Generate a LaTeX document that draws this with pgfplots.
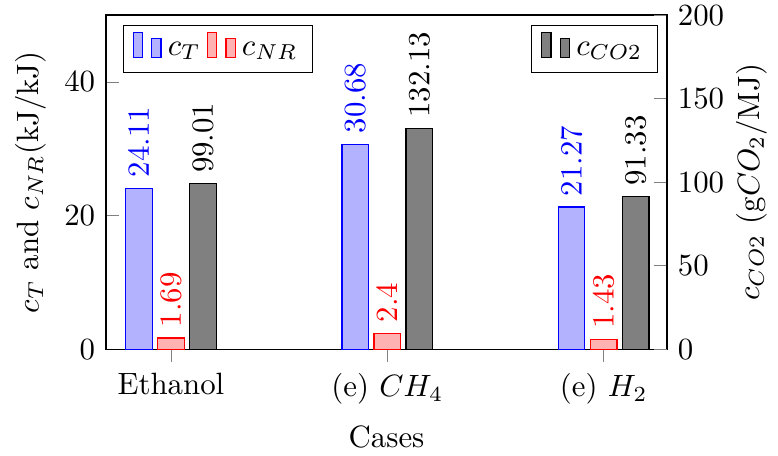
\documentclass[border=0pt]{standalone}
\usepackage{pgfplots}
\pgfplotsset{compat=1.18}
\begin{document}
\begin{tikzpicture}
\begin{axis}[
  name=ax,
  scale only axis, width=182pt, height=108.4pt,
  xmin=-0.3, xmax=2.293, ymin=0, ymax=50,
  xtick={0,1,2}, xticklabels={Ethanol, (e) $CH_4$, (e) $H_2$},
  xtick pos=bottom, xtick align=outside, ytick pos=left,
  ytick={0,20,40},
  ylabel={$c_T$ and $c_{NR}$(kJ/kJ)}, xlabel={Cases},
  ylabel style={yshift=-1pt},
  ybar, bar width=8.6pt,
  nodes near coords,
  every node near coord/.append style={rotate=90, anchor=west},
  legend style={at={(0.03,0.97)}, anchor=north west, legend columns=-1},
]
\addplot[blue, fill=blue!30, bar shift=-10.4pt] coordinates {(0,24.11) (1,30.68) (2,21.27)};
\addplot[red, fill=red!30, bar shift=0pt] coordinates {(0,1.69) (1,2.4) (2,1.43)};
\legend{$c_T$, $c_{NR}$}
\end{axis}
\begin{axis}[
  scale only axis, width=182pt, height=108.4pt,
  xmin=-0.3, xmax=2.293, ymin=0, ymax=200,
  hide x axis, ytick pos=right, yticklabel pos=right, ylabel near ticks,
  ytick={0,50,100,150,200},
  ylabel={$c_{CO2}$ (g$CO_2$/MJ)},
  ylabel style={yshift=3pt},
  ybar, bar width=8.6pt,
  nodes near coords,
  every node near coord/.append style={rotate=90, anchor=west},
  legend style={at={(0.984,0.97)}, anchor=north east},
]
\addplot[black, fill=gray, bar shift=10.4pt] coordinates {(0,99.01) (1,132.13) (2,91.33)};
\legend{$c_{CO2}$}
\end{axis}
\pgfresetboundingbox
\path ([xshift=-34.4pt,yshift=-34.4pt]ax.south west) rectangle ([xshift=36pt,yshift=4.9pt]ax.north east);
\end{tikzpicture}
\end{document}
